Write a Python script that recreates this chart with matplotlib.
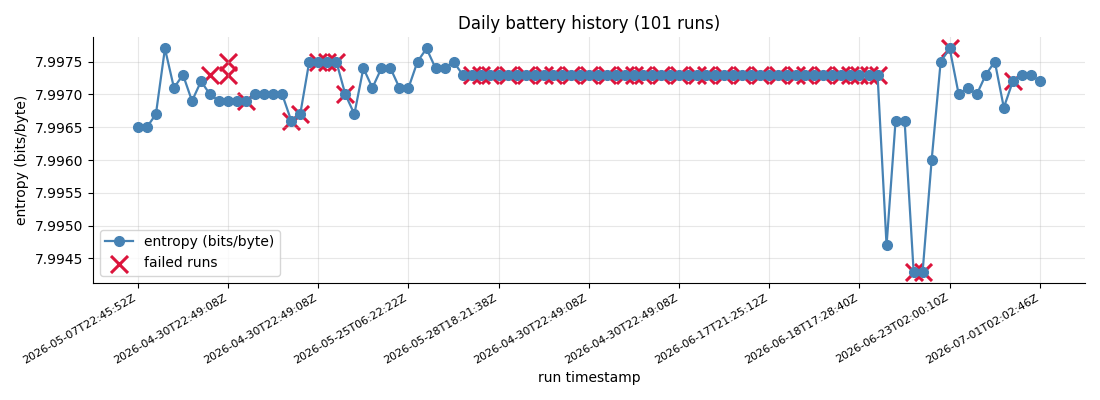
import matplotlib

matplotlib.use("Agg")
import matplotlib.pyplot as plt

# entropy per run (index 0..100)
entropy = (
    [7.9965, 7.9965, 7.9967, 7.9977, 7.9971, 7.9973, 7.9969, 7.9972, 7.9970, 7.9969,
     7.9969, 7.9969, 7.9969, 7.9970, 7.9970, 7.9970, 7.9970, 7.9966, 7.9967, 7.9975,
     7.9975, 7.9975, 7.9975, 7.9970, 7.9967, 7.9974, 7.9971, 7.9974, 7.9974, 7.9971,
     7.9971, 7.9975, 7.9977, 7.9974, 7.9974, 7.9975]
    + [7.9973] * 47
    + [7.9947, 7.9966, 7.9966, 7.9943, 7.9943, 7.9960, 7.9975, 7.9977, 7.9970, 7.9971,
       7.9970, 7.9973, 7.9975, 7.9968, 7.9972, 7.9973, 7.9973, 7.9972]
)

failed_idx = [8, 10, 10, 12, 17, 18, 20, 21, 22, 23,
              37, 38, 39, 41, 43, 45, 46, 48, 50, 52, 54, 55, 56, 58, 60,
              62, 63, 65, 67, 69, 71, 73, 74, 76, 78, 79, 80, 81, 82,
              86, 87, 90, 97]
failed_entropy = [7.9973, 7.9975, 7.9973, 7.9969, 7.9966, 7.9967, 7.9975, 7.9975, 7.9975, 7.9970] \
    + [7.9973] * 29 \
    + [7.9943, 7.9943, 7.9977, 7.9972]

tick_runs = list(range(0, 101, 10))
tick_labels = [
    "2026-05-07T22:45:52Z", "2026-04-30T22:49:08Z", "2026-04-30T22:49:08Z",
    "2026-05-25T06:22:22Z", "2026-05-28T18:21:38Z", "2026-04-30T22:49:08Z",
    "2026-04-30T22:49:08Z", "2026-06-17T21:25:12Z", "2026-06-18T17:28:40Z",
    "2026-06-23T02:00:10Z", "2026-07-01T02:02:46Z",
]

fig, ax = plt.subplots(figsize=(11, 4), dpi=100)
runs = list(range(len(entropy)))
ax.scatter(failed_idx, failed_entropy, marker="x", s=150, color="crimson",
           linewidths=2.2, label="failed runs")
ax.plot(runs, entropy, "o-", color="steelblue", markersize=7, linewidth=1.6,
        label="entropy (bits/byte)")

ax.set_xticks(tick_runs)
ax.set_xticklabels(tick_labels, rotation=30, ha="right", fontsize=8)
ax.ticklabel_format(axis="y", useOffset=False)
ax.set_xlabel("run timestamp")
ax.set_ylabel("entropy (bits/byte)")
ax.set_title("Daily battery history (101 runs)")
ax.grid(True, alpha=0.3)
ax.spines["top"].set_visible(False)
ax.spines["right"].set_visible(False)

handles, labels = ax.get_legend_handles_labels()
ax.legend(handles[::-1], labels[::-1], loc="lower left")

fig.tight_layout()
fig.savefig("out.png")
